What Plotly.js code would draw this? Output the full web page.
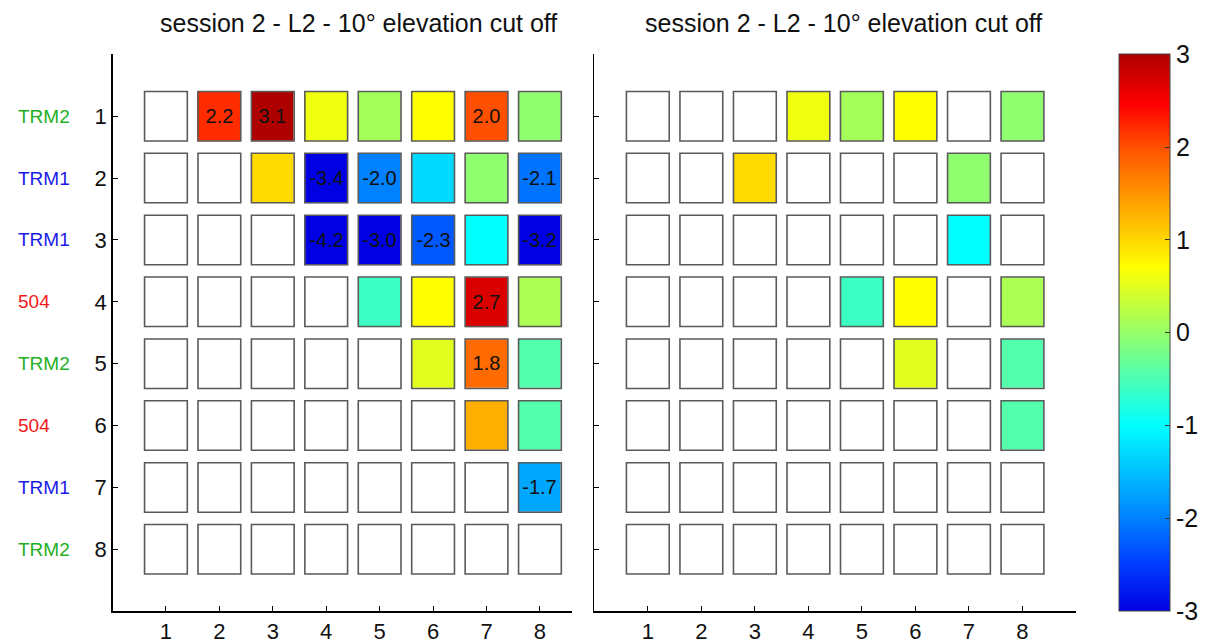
<!DOCTYPE html>
<html><head><meta charset="utf-8">
<script src="https://cdn.plot.ly/plotly-3.0.1.min.js"></script>
<style>html,body{margin:0;padding:0;background:#fff}</style>
</head><body><div id="chart" style="width:1206px;height:643px"></div>
<script>
// ---- data ----
const columns = [1, 2, 3, 4, 5, 6, 7, 8];
const rows = [1, 2, 3, 4, 5, 6, 7, 8];
const rowLabels = ['TRM2', 'TRM1', 'TRM1', '504', 'TRM2', '504', 'TRM1', 'TRM2'];
const rowLabelColors = ['#1faf1f', '#1a1ae6', '#1a1ae6', '#f01818', '#1faf1f', '#f01818', '#1a1ae6', '#1faf1f'];
const panelTitle = 'session 2 - L2 - 10° elevation cut off';
const colorTicks = [-3, -2, -1, 0, 1, 2, 3];

const leftValues = [
  [null, 2.2, 3.1, 0.6, 0.1, 0.7, 2.0, -0.05],
  [null, null, 0.97, -3.4, -2.0, -1.3, -0.05, -2.1],
  [null, null, null, -4.2, -3.0, -2.3, -1.0, -3.2],
  [null, null, null, null, -0.6, 0.7, 2.7, 0.15],
  [null, null, null, null, null, 0.5, 1.8, -0.45],
  [null, null, null, null, null, null, 1.3, -0.45],
  [null, null, null, null, null, null, null, -1.7],
  [null, null, null, null, null, null, null, null]
];
const leftLabels = [
  ['', '2.2', '3.1', '', '', '', '2.0', ''],
  ['', '', '', '-3.4', '-2.0', '', '', '-2.1'],
  ['', '', '', '-4.2', '-3.0', '-2.3', '', '-3.2'],
  ['', '', '', '', '', '', '2.7', ''],
  ['', '', '', '', '', '', '1.8', ''],
  ['', '', '', '', '', '', '', ''],
  ['', '', '', '', '', '', '', '-1.7'],
  ['', '', '', '', '', '', '', '']
];
const rightValues = [
  [null, null, null, 0.6, 0.1, 0.7, null, -0.05],
  [null, null, 0.97, null, null, null, -0.05, null],
  [null, null, null, null, null, null, -1.0, null],
  [null, null, null, null, -0.6, 0.7, null, 0.15],
  [null, null, null, null, null, 0.5, null, -0.45],
  [null, null, null, null, null, null, null, -0.45],
  [null, null, null, null, null, null, null, null],
  [null, null, null, null, null, null, null, null]
];

// ---- style ----
const FONT = 'Liberation Sans, Arial, sans-serif';
const W = 1206, H = 643;
const colorscale = [
  [0.0, 'rgb(0,0,226)'],
  [0.0833, 'rgb(0,60,255)'],
  [0.1667, 'rgb(0,130,255)'],
  [0.3333, 'rgb(0,255,255)'],
  [0.5, 'rgb(150,255,105)'],
  [0.6167, 'rgb(255,255,0)'],
  [0.6667, 'rgb(255,215,0)'],
  [0.8333, 'rgb(255,80,0)'],
  [0.9083, 'rgb(255,0,0)'],
  [1.0, 'rgb(175,0,0)']
];

const plotTop = 54.3, plotBottom = 611.2;
const yDom = [1 - plotBottom / H, 1 - plotTop / H];
const leftX = [112.5, 572], rightX = [594.3, 1076];
const leftRange = [0, 8.6], rightRange = [0, 9];

function heat(z, xa, ya, withScale, labels) {
  const t = {
    type: 'heatmap', x: columns, y: rows, z: z,
    xaxis: xa, yaxis: ya,
    zmin: -3, zmax: 3, colorscale: colorscale,
    xgap: 10.7, ygap: 12.4,
    hoverinfo: 'skip',
    showscale: withScale
  };
  if (labels) {
    t.text = labels;
    t.texttemplate = '%{text}';
    t.textfont = {family: FONT, size: 20, color: '#111'};
  }
  if (withScale) {
    t.colorbar = {
      x: 1119.3 / W, xanchor: 'left', y: yDom[0], yanchor: 'bottom',
      len: yDom[1] - yDom[0], lenmode: 'fraction',
      thickness: 51, thicknessmode: 'pixels',
      xpad: 0, ypad: 0,
      outlinewidth: 1, outlinecolor: '#444',
      ticks: 'inside', ticklen: 5, tickcolor: '#333',
      tickvals: colorTicks, ticktext: colorTicks.map(String),
      tickfont: {family: FONT, size: 25, color: '#111'}
    };
  }
  return t;
}

const data = [
  heat(leftValues, 'x', 'y', false, leftLabels),
  heat(rightValues, 'x2', 'y2', true, null)
];

const shapes = [];
[['x', 'y'], ['x2', 'y2']].forEach(([xa, ya]) => {
  rows.forEach(r => columns.forEach(c => {
    shapes.push({type: 'rect', xref: xa, yref: ya, x0: c - 0.4, x1: c + 0.4, y0: r - 0.4, y1: r + 0.4,
      line: {color: '#5a5a5a', width: 1.6}, fillcolor: 'rgba(0,0,0,0)', layer: 'above'});
  }));
});

const annotations = [];
rows.forEach((r, i) => {
  annotations.push({xref: 'paper', yref: 'y', x: 16 / W, y: r, xanchor: 'left', yanchor: 'middle',
    text: rowLabels[i], showarrow: false, font: {family: FONT, size: 19, color: rowLabelColors[i]}});
});
[[358.5], [843]].forEach(([cx]) => {
  annotations.push({xref: 'paper', yref: 'paper', x: cx / W, y: 1 - 23 / H, xanchor: 'center', yanchor: 'middle',
    text: panelTitle, showarrow: false, font: {family: FONT, size: 25, color: '#111'}});
});

const axisBase = {
  showgrid: false, zeroline: false, showline: true, linecolor: '#000', linewidth: 1.3,
  ticks: 'inside', ticklen: 5, tickcolor: '#000', tickwidth: 1,
  tickfont: {family: FONT, size: 22, color: '#111'}, fixedrange: true
};

const layout = {
  width: W, height: H,
  margin: {l: 0, r: 0, t: 0, b: 0},
  paper_bgcolor: '#fff', plot_bgcolor: '#fff',
  showlegend: false,
  xaxis: Object.assign({}, axisBase, {domain: [leftX[0] / W, leftX[1] / W], range: leftRange, tickvals: columns, anchor: 'y'}),
  yaxis: Object.assign({}, axisBase, {domain: yDom, range: [9, 0], tickvals: rows, anchor: 'x'}),
  xaxis2: Object.assign({}, axisBase, {domain: [rightX[0] / W, rightX[1] / W], range: rightRange, tickvals: columns, anchor: 'y2'}),
  yaxis2: Object.assign({}, axisBase, {domain: yDom, range: [9, 0], tickvals: rows, showticklabels: false, anchor: 'x2'}),
  shapes: shapes,
  annotations: annotations
};

Plotly.newPlot('chart', data, layout, {staticPlot: true, displayModeBar: false});
</script>
</body></html>
